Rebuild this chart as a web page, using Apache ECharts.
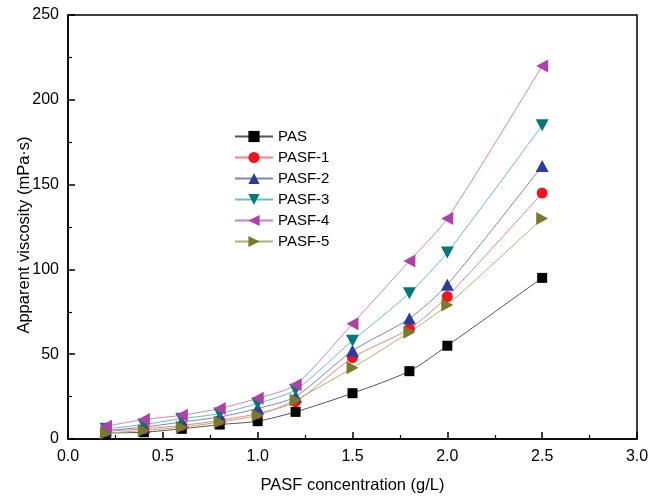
<!DOCTYPE html>
<html>
<head>
<meta charset="utf-8">
<script src="https://cdn.jsdelivr.net/npm/echarts@6/dist/echarts.min.js"></script>
<style>html,body{margin:0;padding:0;background:#fff}#c{width:659px;height:500px}</style>
</head>
<body>
<div id="c"></div>
<script>
const concentrations = [0.2, 0.4, 0.6, 0.8, 1.0, 1.2, 1.5, 1.8, 2.0, 2.5];
const seriesNames = ['PAS', 'PASF-1', 'PASF-2', 'PASF-3', 'PASF-4', 'PASF-5'];
const PAS    = [3.5, 4, 6, 8.5, 10.5, 16, 27, 40, 55, 95];
const PASF_1 = [4.5, 6, 8, 11, 15, 22, 48, 65, 84, 145];
const PASF_2 = [5, 7, 10, 13, 18, 25, 52, 71, 91, 161];
const PASF_3 = [6, 8.5, 12, 15, 21, 29, 58, 86, 110, 185];
const PASF_4 = [7.5, 11.5, 14, 18, 24, 32, 68, 105, 130, 220];
const PASF_5 = [3.5, 5, 7, 10, 14, 23, 42, 63, 79, 130];
const xTicks = [0, 0.5, 1.0, 1.5, 2.0, 2.5, 3.0];
const yTicks = [0, 50, 100, 150, 200, 250];

const values = [PAS, PASF_1, PASF_2, PASF_3, PASF_4, PASF_5];
const markerColors = ['#000000', '#f0141e', '#2b3c9c', '#007a78', '#b040a8', '#7a7a2c'];
const lineColors = ['#555555', '#f58080', '#7a82c8', '#60c0c0', '#d080d0', '#b0b070'];
const symbols = ['rect', 'circle', 'triangle', 'triangle', 'triangle', 'triangle'];
const rotations = [0, 0, 0, 180, 90, -90];
const sizes = [10, 11, [13, 12], [13, 12], [13, 12], [13, 12]];

const font = 'Liberation Sans, Arial, sans-serif';
const chart = echarts.init(document.getElementById('c'));
chart.setOption({
  animation: false,
  backgroundColor: '#fff',
  grid: { left: 68, right: 22, top: 15, bottom: 61, outerBoundsMode: 'none', containLabel: false,
          show: true, borderColor: '#000', borderWidth: 1.5, backgroundColor: 'transparent' },
  legend: {
    orient: 'vertical', left: 229, top: 124, itemGap: 6, itemWidth: 38, itemHeight: 14,
    textStyle: { fontFamily: font, fontSize: 15, color: '#000' },
    data: seriesNames
  },
  xAxis: {
    type: 'value', min: xTicks[0], max: xTicks[xTicks.length - 1], interval: 0.5,
    name: 'PASF concentration (g/L)', nameLocation: 'middle', nameGap: 38, nameMoveOverlap: false,
    nameTextStyle: { fontFamily: font, fontSize: 16.5, color: '#000' },
    axisLine: { lineStyle: { color: '#000', width: 1.5 } },
    axisTick: { inside: true, length: 7, lineStyle: { color: '#000', width: 1.5 } },
    minorTick: { show: true, splitNumber: 2, length: 4, lineStyle: { color: '#000', width: 1.2 } },
    splitLine: { show: false },
    axisLabel: { fontFamily: font, fontSize: 16, color: '#000', margin: 10, formatter: v => v.toFixed(1) }
  },
  yAxis: {
    type: 'value', min: yTicks[0], max: yTicks[yTicks.length - 1], interval: 50,
    name: 'Apparent viscosity (mPa·s)', nameLocation: 'middle', nameGap: 35, nameMoveOverlap: false,
    nameTextStyle: { fontFamily: font, fontSize: 16.5, color: '#000', padding: [0, 16, 0, 0] },
    axisLine: { lineStyle: { color: '#000', width: 1.5 } },
    axisTick: { inside: true, length: 7, lineStyle: { color: '#000', width: 1.5 } },
    minorTick: { show: true, splitNumber: 2, length: 4, lineStyle: { color: '#000', width: 1.2 } },
    splitLine: { show: false },
    axisLabel: { fontFamily: font, fontSize: 16, color: '#000', margin: 9 }
  },
  series: seriesNames.map((n, i) => ({
    name: n, type: 'line', smooth: 0.25,
    data: concentrations.map((x, j) => [x, values[i][j]]),
    symbol: symbols[i], symbolRotate: rotations[i], symbolSize: sizes[i],
    itemStyle: { color: markerColors[i] },
    lineStyle: { color: lineColors[i], width: 1 }
  }))
});
</script>
</body>
</html>
